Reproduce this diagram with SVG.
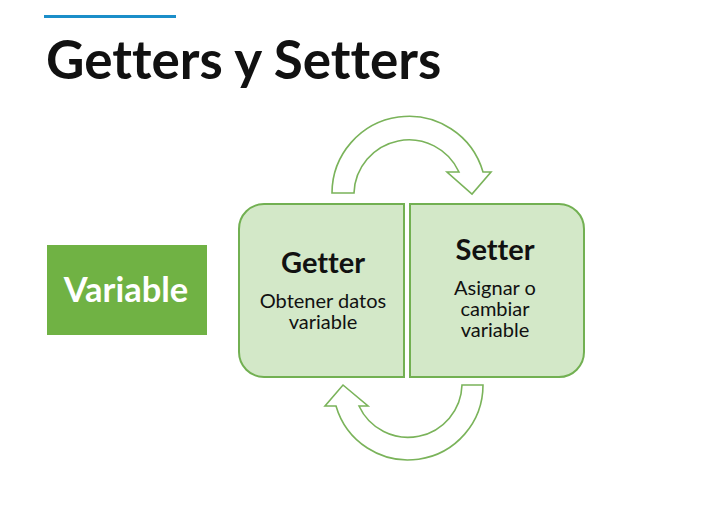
<svg xmlns="http://www.w3.org/2000/svg" width="724" height="508" viewBox="0 0 724 508">
<style>
.t{font-family:Lato,"Open Sans",sans-serif;fill:#111;font-variant-ligatures:none;font-feature-settings:"liga" 0}
.b{font-weight:bold}
.box{fill:#d3e8c8;stroke:#72b052;stroke-width:2}
.arr{fill:#fff;stroke:#7ab35a;stroke-width:1.6;stroke-linejoin:miter}
</style>
<rect width="724" height="508" fill="#fff"/>
<rect x="44" y="15" width="132" height="3" fill="#1b8ec9"/>
<text class="t b" x="46" y="79" font-size="53">Getters y Setters</text>
<g id="variable">
<rect x="47" y="245" width="160" height="90" fill="#70b244"/>
<text class="t b" x="126" y="302" font-size="34.5" text-anchor="middle" style="fill:#fff">Variable</text>
</g>
<g id="getter">
<path class="box" d="M264,204 H404 V377 H264 A25,25 0 0 1 239,352 V229 A25,25 0 0 1 264,204 Z"/>
<text class="t b" x="323" y="273" font-size="29" text-anchor="middle">Getter</text>
<text class="t" x="323" y="308" font-size="20" text-anchor="middle">Obtener datos</text>
<text class="t" x="323" y="329" font-size="20" text-anchor="middle">variable</text>
</g>
<g id="setter">
<path class="box" d="M410,204 H559 A25,25 0 0 1 584,229 V352 A25,25 0 0 1 559,377 H410 Z"/>
<text class="t b" x="495" y="260" font-size="29" text-anchor="middle">Setter</text>
<text class="t" x="495" y="295" font-size="20" text-anchor="middle">Asignar o</text>
<text class="t" x="495" y="316" font-size="20" text-anchor="middle">cambiar</text>
<text class="t" x="495" y="337" font-size="20" text-anchor="middle">variable</text>
</g>
<g id="connectors">
<path class="arr" d="M332,193 A77,77 0 0 1 483,172 L491,172 L472,194 L447,172 L459,172 A55,55 0 0 0 354,193 Z"/>
<path class="arr" d="M483,385 A75,75 0 0 1 336,406 L325,406 L343,385 L368,406 L359,406 A54,54 0 0 0 462,385 Z"/>
</g>
</svg>
